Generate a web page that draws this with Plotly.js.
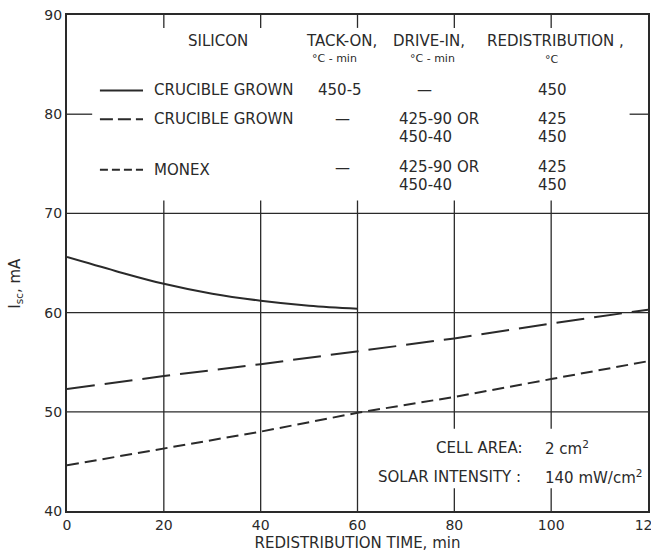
<!DOCTYPE html>
<html>
<head>
<meta charset="utf-8">
<script src="https://cdn.plot.ly/plotly-3.0.1.min.js"></script>
<style>html,body{margin:0;padding:0;background:#fff;}#chart{width:651px;height:559px;}</style>
</head>
<body>
<div id="chart"></div>
<script>
// ---- data ----
const solidTime = [0, 10, 20, 30, 40, 50, 60];
const crucibleTackOn = [65.6, 64.2, 62.9, 61.9, 61.2, 60.7, 60.4];
const dashTime = [0, 20, 40, 60, 80, 100, 120];
const crucibleDriveIn = [52.3, 53.6, 54.8, 56.1, 57.4, 58.9, 60.3];
const monexDriveIn = [44.6, 46.3, 48.0, 49.9, 51.5, 53.3, 55.1];
const xTicks = [0, 20, 40, 60, 80, 100, 120];
const xTickText = ["0", "20", "40", "60", "80", "100", "120"];
const yTicks = [40, 50, 60, 70, 80, 90];
const yTickText = ["40", "50", "60", "70", "80", "90"];

const INK = '#2a2a2a';
const FONT = 'DejaVu Sans, Arial, sans-serif';

const traces = [
  {x: solidTime, y: crucibleTackOn, mode: 'lines', line: {color: INK, width: 2, shape: 'spline'}, name: 'Crucible grown (tack-on)'},
  {x: dashTime, y: crucibleDriveIn, mode: 'lines', line: {color: INK, width: 2, dash: '28px,10px'}, name: 'Crucible grown (drive-in)'},
  {x: dashTime, y: monexDriveIn, mode: 'lines', line: {color: INK, width: 2, dash: '12px,6px'}, name: 'Monex'}
];

// grid / partial lines
const shapes = [];
const ln = (x0, y0, x1, y1, w, dash) => shapes.push({type: 'line', xref: 'x', yref: 'y', x0, y0, x1, y1, line: {color: INK, width: w || 1.3, dash: dash || 'solid'}, layer: 'below'});
[50, 60, 70].forEach(v => ln(0, v, 120, v));
ln(0, 80, 5.2, 80); ln(116.2, 80, 120, 80);
[20, 40, 60].forEach(v => ln(v, 40, v, 71.3));
[80, 100].forEach(v => { ln(v, 48.3, v, 71.3); ln(v, 40, v, 42.3); });
[20, 40, 60, 80, 100].forEach(v => ln(v, 88.7, v, 90));
// legend samples
ln(6.8, 82.4, 15.7, 82.4, 2);
ln(6.8, 79.5, 15.7, 79.5, 2, '13px,5px');
ln(6.8, 74.4, 15.7, 74.4, 2, '8px,4px');

const annotations = [];
const txt = (text, x, y, xanchor, size) => annotations.push({text, x, y, xref: 'x', yref: 'y', xanchor: xanchor || 'center', yanchor: 'middle', showarrow: false, font: {family: FONT, size: size || 15, color: INK}});
txt('SILICON', 31.2, 87.35);
txt('TACK-ON,', 56.6, 87.35);
txt('°C - min', 55.3, 85.6, 'center', 11);
txt('DRIVE-IN,', 74.8, 87.35);
txt('°C - min', 75.4, 85.6, 'center', 11);
txt('REDISTRIBUTION ,', 100.8, 87.35);
txt('°C', 100.2, 85.55, 'center', 11);
txt('CRUCIBLE GROWN', 17.6, 82.4, 'left');
txt('450-5', 56.4, 82.4);
txt('—', 73.9, 82.4);
txt('450', 100.2, 82.4);
txt('CRUCIBLE GROWN', 17.6, 79.5, 'left');
txt('—', 56.8, 79.5);
txt('425-90 OR', 68.2, 79.5, 'left');
txt('425', 100.2, 79.5);
txt('450-40', 68.2, 77.7, 'left');
txt('450', 100.2, 77.7);
txt('MONEX', 17.6, 74.4, 'left');
txt('—', 56.8, 74.6);
txt('425-90 OR', 68.2, 74.7, 'left');
txt('425', 100.2, 74.7);
txt('450-40', 68.2, 72.9, 'left');
txt('450', 100.2, 72.9);
txt('CELL AREA:', 94.6, 46.35, 'right');
txt('2 cm<sup>2</sup>', 98.3, 46.35, 'left');
txt('SOLAR INTENSITY :', 94.2, 43.4, 'right');
txt('140 mW/cm<sup>2</sup>', 98.3, 43.4, 'left');
annotations.push({text: 'I<sub>sc</sub>, mA', xref: 'paper', yref: 'paper', x: -0.088, y: 0.46, textangle: -90, showarrow: false, xanchor: 'center', yanchor: 'middle', font: {family: FONT, size: 15, color: INK}});

const layout = {
  width: 651, height: 559,
  margin: {l: 67, r: 3, t: 15, b: 48},
  paper_bgcolor: '#fff', plot_bgcolor: '#fff',
  showlegend: false,
  font: {family: FONT, size: 13, color: INK},
  xaxis: {range: [0, 120], tickvals: xTicks, ticktext: xTickText, showgrid: false, zeroline: false,
          showline: true, mirror: true, linecolor: INK, linewidth: 2, ticks: '', ticklabeloverflow: 'allow',
          tickfont: {family: FONT, size: 14, color: INK},
          title: {text: 'REDISTRIBUTION TIME, min', standoff: 6, font: {family: FONT, size: 15, color: INK}}},
  yaxis: {range: [40, 90], tickvals: yTicks, ticktext: yTickText, showgrid: false, zeroline: false,
          showline: true, mirror: true, linecolor: INK, linewidth: 2, ticks: '', ticklabeloverflow: 'allow',
          tickfont: {family: FONT, size: 14, color: INK}},
  shapes, annotations
};

Plotly.newPlot('chart', traces, layout, {displayModeBar: false, staticPlot: true});
</script>
</body>
</html>
